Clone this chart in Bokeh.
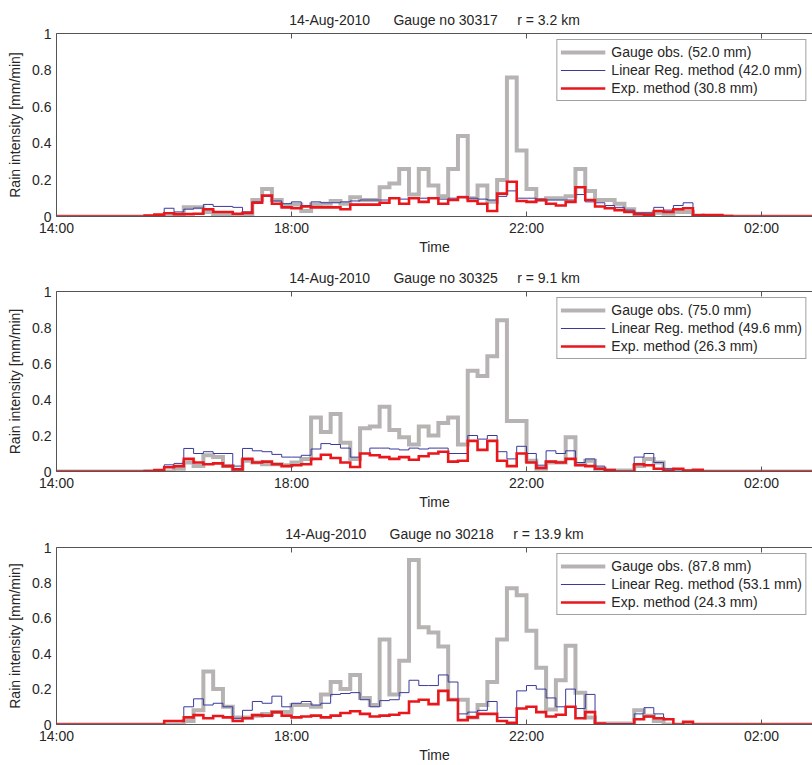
from bokeh.plotting import figure
from bokeh.models import FixedTicker, LinearAxis, Range1d, Legend, LegendItem
from bokeh.layouts import column
from bokeh.embed import file_html
from bokeh.resources import INLINE

# ---------------- data ----------------
# 10-minute rain intensity [mm/min], first value starts at 15:30 on 14-Aug-2010
START_HOUR = 15.5
STEP_HOURS = 10.0 / 60.0

x_tick_values = [14, 18, 22, 26]
x_tick_labels = ["14:00", "18:00", "22:00", "02:00"]
y_tick_values = [0, 0.2, 0.4, 0.6, 0.8, 1]
y_tick_labels = ["0", "0.2", "0.4", "0.6", "0.8", "1"]

SP6 = "\u00a0" * 6
SP5 = "\u00a0" * 5
panel_titles = [
    "14-Aug-2010" + SP6 + "Gauge no 30317" + SP5 + "r = 3.2 km",
    "14-Aug-2010" + SP6 + "Gauge no 30325" + SP5 + "r = 9.1 km",
    "14-Aug-2010" + SP6 + "Gauge no 30218" + SP5 + "r = 13.9 km",
]
gauge_totals = ["52.0", "75.0", "87.8"]
linreg_totals = ["42.0", "49.6", "53.1"]
exp_totals = ["30.8", "26.3", "24.3"]

gauge1 = [0, 0, 0, 0.005, 0.05, 0.05, 0.025, 0.01, 0.01, 0.005,
          0.01, 0.09, 0.15, 0.09, 0.06, 0.065, 0.03, 0.065, 0.07, 0.085,
          0.07, 0.105, 0.09, 0.09, 0.16, 0.18, 0.26, 0.12, 0.26, 0.17,
          0.11, 0.26, 0.44, 0.10, 0.17, 0.08, 0.20, 0.76, 0.36, 0.15,
          0.09, 0.10, 0.10, 0.11, 0.26, 0.14, 0.09, 0.09, 0.07, 0.04,
          0.015, 0.015, 0.02, 0.015, 0.025, 0.025, 0.005, 0.003, 0.003, 0, 0]
linreg1 = [0.005, 0.01, 0.045, 0.025, 0.04, 0.046, 0.066, 0.055, 0.055, 0.05,
           0.025, 0.08, 0.11, 0.085, 0.07, 0.08, 0.06, 0.08, 0.075, 0.075,
           0.08, 0.085, 0.09, 0.09, 0.09, 0.1, 0.095, 0.1, 0.1, 0.1,
           0.095, 0.1, 0.11, 0.1, 0.095, 0.09, 0.11, 0.14, 0.1, 0.1,
           0.095, 0.09, 0.09, 0.09, 0.12, 0.08, 0.075, 0.06, 0.05, 0.035,
           0.02, 0.02, 0.05, 0.035, 0.06, 0.075, 0.01, 0.008, 0.008, 0.003, 0]
exp1 = [0.005, 0.01, 0.018, 0.013, 0.013, 0.015, 0.04, 0.025, 0.025, 0.015,
        0.02, 0.075, 0.115, 0.07, 0.05, 0.045, 0.055, 0.05, 0.05, 0.05,
        0.04, 0.065, 0.065, 0.065, 0.075, 0.1, 0.07, 0.1, 0.08, 0.1,
        0.07, 0.09, 0.105, 0.085, 0.07, 0.03, 0.125, 0.19, 0.085, 0.08,
        0.09, 0.07, 0.06, 0.08, 0.16, 0.09, 0.055, 0.045, 0.035, 0.025,
        0.012, 0.01, 0.03, 0.025, 0.04, 0.045, 0.006, 0.008, 0.008, 0.003, 0]

gauge2 = [0, 0, 0, 0.015, 0.05, 0.03, 0.09, 0.08, 0.03, 0.01,
          0.06, 0.05, 0.04, 0.04, 0.035, 0.05, 0.07, 0.3, 0.22, 0.32,
          0.16, 0.07, 0.24, 0.25, 0.36, 0.23, 0.19, 0.15, 0.25, 0.2,
          0.27, 0.3, 0.15, 0.56, 0.53, 0.64, 0.84, 0.28, 0.28, 0.06,
          0.015, 0.05, 0.05, 0.19, 0.04, 0.06, 0.015, 0.005, 0.005, 0.005,
          0.03, 0.07, 0.05, 0.01, 0.005, 0, 0, 0, 0, 0, 0]
linreg2 = [0.003, 0.008, 0.037, 0.045, 0.128, 0.1, 0.11, 0.1, 0.1, 0.03,
           0.128, 0.115, 0.11, 0.095, 0.08, 0.08, 0.09, 0.125, 0.155, 0.15,
           0.13, 0.08, 0.1, 0.13, 0.13, 0.125, 0.12, 0.13, 0.125, 0.13,
           0.13, 0.1, 0.1, 0.2, 0.18, 0.2, 0.11, 0.07, 0.14, 0.1,
           0.035, 0.115, 0.1, 0.115, 0.05, 0.07, 0.03, 0.01, 0, 0,
           0.08, 0.1, 0.05, 0.015, 0.01, 0.005, 0.005, 0, 0, 0, 0]
exp2 = [0.003, 0.008, 0.024, 0.03, 0.07, 0.05, 0.04, 0.045, 0.03, 0.012,
        0.07, 0.05, 0.055, 0.04, 0.03, 0.035, 0.04, 0.07, 0.093, 0.075,
        0.05, 0.025, 0.1, 0.09, 0.08, 0.07, 0.08, 0.065, 0.085, 0.1,
        0.11, 0.055, 0.06, 0.17, 0.12, 0.17, 0.06, 0.03, 0.1, 0.05,
        0.02, 0.055, 0.05, 0.07, 0.035, 0.03, 0.015, 0.008, 0, 0,
        0.04, 0.035, 0.015, 0.005, 0.015, 0.005, 0.01, 0, 0, 0, 0]

gauge3 = [0, 0, 0, 0, 0.02, 0.08, 0.30, 0.2, 0.1, 0.04,
          0.04, 0.05, 0.06, 0.07, 0.07, 0.11, 0.11, 0.1, 0.17, 0.24,
          0.2, 0.28, 0.15, 0.11, 0.48, 0.17, 0.36, 0.93, 0.55, 0.52,
          0.44, 0.14, 0.14, 0.04, 0.11, 0.24, 0.48, 0.77, 0.73, 0.53,
          0.32, 0.085, 0.25, 0.445, 0.18, 0.04, 0.005, 0.005, 0.005, 0.005,
          0.08, 0.05, 0.02, 0, 0, 0, 0, 0, 0, 0, 0]
linreg3 = [0, 0, 0.02, 0.02, 0.1, 0.145, 0.11, 0.12, 0.1, 0.035,
           0.08, 0.13, 0.12, 0.16, 0.1, 0.12, 0.13, 0.11, 0.12, 0.17,
           0.175, 0.18, 0.14, 0.1, 0.135, 0.14, 0.18, 0.25, 0.22, 0.22,
           0.28, 0.24, 0.06, 0.07, 0.08, 0.13, 0.04, 0.04, 0.19, 0.22,
           0.2, 0.15, 0.1, 0.2, 0.09, 0.17, 0.005, 0.005, 0.005, 0.005,
           0.06, 0.095, 0.06, 0.03, 0, 0, 0, 0, 0, 0, 0]
exp3 = [0, 0, 0.02, 0.02, 0.04, 0.053, 0.035, 0.048, 0.04, 0.02,
        0.035, 0.053, 0.05, 0.07, 0.05, 0.04, 0.045, 0.05, 0.04, 0.05,
        0.065, 0.075, 0.06, 0.045, 0.05, 0.055, 0.065, 0.13, 0.14, 0.115,
        0.19, 0.14, 0.025, 0.04, 0.06, 0.06, 0.02, 0.01, 0.09, 0.1,
        0.07, 0.045, 0.055, 0.1, 0.035, 0.07, 0.005, 0, 0, 0,
        0.03, 0.045, 0.035, 0.03, 0, 0.015, 0, 0, 0, 0, 0]

gauge_series = [gauge1, gauge2, gauge3]
linreg_series = [linreg1, linreg2, linreg3]
exp_series = [exp1, exp2, exp3]

# ---------------- styling ----------------
FONT = "Liberation Sans"
FS = "14px"
TEXT_COLOR = "#262626"
AXIS_COLOR = "#555555"
GAUGE_COLOR = "#b7b3b3"
LINREG_COLOR = "#3a3a9c"
EXP_COLOR = "#e8171c"

FIG_W = 812
BORDER_LEFT = 56
X_START = 14.0
X_END = 14.0 + (FIG_W - BORDER_LEFT) / 58.75

# (figure height, min border top, min border bottom)
panel_sizes = [(262, 33, 46), (256, 27, 47), (247, 27, 38)]


def step_xy(values):
    xs = [X_START] + [START_HOUR + i * STEP_HOURS for i in range(len(values) + 1)] + [X_END]
    ys = [0.0] + list(values) + [0.0, 0.0]
    return xs, ys


def make_panel(k):
    h, bt, bb = panel_sizes[k]
    p = figure(width=FIG_W, height=h, output_backend="svg", toolbar_location=None,
               x_range=Range1d(X_START, X_END), y_range=Range1d(0, 1),
               min_border_left=BORDER_LEFT, min_border_right=0,
               min_border_top=bt, min_border_bottom=bb)
    p.outline_line_color = None
    p.grid.visible = False
    p.background_fill_color = "white"
    p.border_fill_color = "white"

    p.title.text = panel_titles[k]
    p.title.align = "center"
    p.title.offset = 4
    p.title.text_font = FONT
    p.title.text_font_size = FS
    p.title.text_font_style = "normal"
    p.title.text_color = TEXT_COLOR
    p.title.standoff = 11

    xs, ys = step_xy(gauge_series[k])
    r_g = p.step(xs, ys, mode="after", line_color=GAUGE_COLOR, line_width=4, line_join="miter")
    xs, ys = step_xy(linreg_series[k])
    r_l = p.step(xs, ys, mode="after", line_color=LINREG_COLOR, line_width=1, line_join="miter")
    xs, ys = step_xy(exp_series[k])
    r_e = p.step(xs, ys, mode="after", line_color=EXP_COLOR, line_width=2.6, line_join="miter")

    xa = p.xaxis[0]
    xa.ticker = FixedTicker(ticks=x_tick_values)
    xa.major_label_overrides = dict(zip(x_tick_values, x_tick_labels))
    xa.major_tick_in = 5
    xa.major_tick_out = 0
    xa.minor_tick_in = 0
    xa.minor_tick_out = 0
    xa.major_label_standoff = 3
    xa.axis_label = "Time"
    xa.axis_label_standoff = 0
    xa.axis_label_text_font = FONT
    xa.axis_label_text_font_size = FS
    xa.axis_label_text_font_style = "normal"
    xa.axis_label_text_color = TEXT_COLOR
    xa.major_label_text_font = FONT
    xa.major_label_text_font_size = FS
    xa.major_label_text_color = TEXT_COLOR
    xa.axis_line_color = AXIS_COLOR
    xa.major_tick_line_color = AXIS_COLOR

    ya = p.yaxis[0]
    ya.ticker = FixedTicker(ticks=y_tick_values)
    ya.major_label_overrides = dict(zip(y_tick_values, y_tick_labels))
    ya.major_tick_in = 0
    ya.major_tick_out = 0
    ya.minor_tick_in = 0
    ya.minor_tick_out = 0
    ya.major_label_standoff = 5
    ya.axis_label = "Rain intensity [mm/min]"
    ya.axis_label_standoff = 6
    ya.axis_label_text_font = FONT
    ya.axis_label_text_font_size = FS
    ya.axis_label_text_font_style = "normal"
    ya.axis_label_text_color = TEXT_COLOR
    ya.major_label_text_font = FONT
    ya.major_label_text_font_size = FS
    ya.major_label_text_color = TEXT_COLOR
    ya.axis_line_color = AXIS_COLOR

    top = LinearAxis(ticker=FixedTicker(ticks=x_tick_values),
                     major_label_overrides={t: "" for t in x_tick_values},
                     major_label_text_font_size="0px", major_label_standoff=0,
                     major_tick_in=5, major_tick_out=0, minor_tick_in=0, minor_tick_out=0,
                     axis_line_color=AXIS_COLOR, major_tick_line_color=AXIS_COLOR)
    p.add_layout(top, "above")

    legend = Legend(items=[
        LegendItem(label="Gauge obs. (%s mm)" % gauge_totals[k], renderers=[r_g]),
        LegendItem(label="Linear Reg. method (%s mm)" % linreg_totals[k], renderers=[r_l]),
        LegendItem(label="Exp. method (%s mm)" % exp_totals[k], renderers=[r_e]),
    ], location="top_right")
    legend.margin = 6
    legend.padding = 3
    legend.spacing = 0
    legend.glyph_width = 45
    legend.glyph_height = 18
    legend.label_height = 18
    legend.label_standoff = 6
    legend.label_text_font = FONT
    legend.label_text_font_size = FS
    legend.label_text_color = TEXT_COLOR
    legend.border_line_color = "#444444"
    legend.border_line_width = 1
    legend.background_fill_color = "white"
    legend.background_fill_alpha = 1.0
    p.add_layout(legend)
    return p


panels = [make_panel(k) for k in range(3)]
layout = column(*panels, spacing=0)

open("out.html", "w").write(file_html(layout, INLINE))
